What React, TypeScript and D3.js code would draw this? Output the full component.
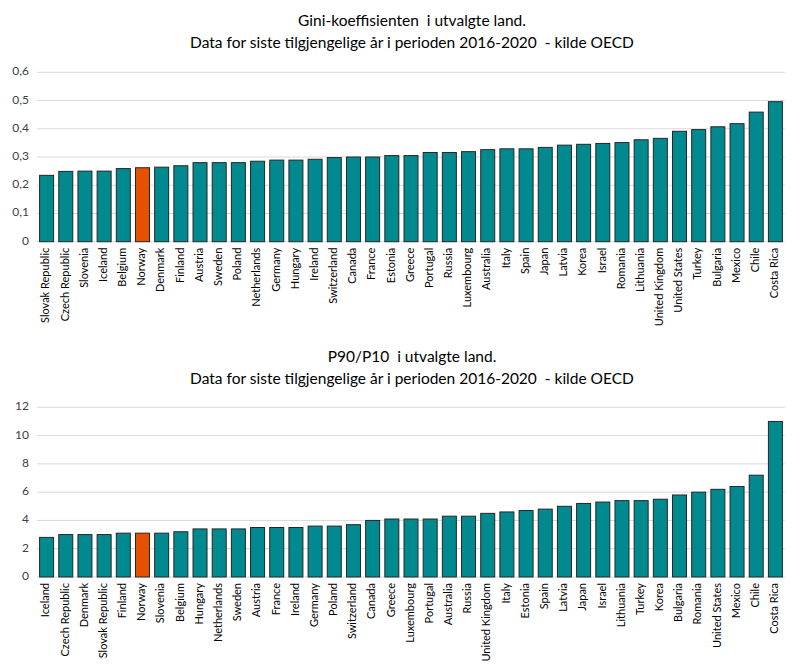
import { useEffect, useRef } from 'react';
import * as d3 from 'd3';

const giniCountries = [
  'Slovak Republic', 'Czech Republic', 'Slovenia', 'Iceland', 'Belgium', 'Norway',
  'Denmark', 'Finland', 'Austria', 'Sweden', 'Poland', 'Netherlands', 'Germany',
  'Hungary', 'Ireland', 'Switzerland', 'Canada', 'France', 'Estonia', 'Greece',
  'Portugal', 'Russia', 'Luxembourg', 'Australia', 'Italy', 'Spain', 'Japan',
  'Latvia', 'Korea', 'Israel', 'Romania', 'Lithuania', 'United Kingdom',
  'United States', 'Turkey', 'Bulgaria', 'Mexico', 'Chile', 'Costa Rica',
];
const giniValues = [
  0.235, 0.249, 0.250, 0.250, 0.259, 0.262, 0.264, 0.269, 0.280, 0.280, 0.280,
  0.285, 0.289, 0.289, 0.292, 0.298, 0.300, 0.300, 0.305, 0.305, 0.316, 0.316,
  0.319, 0.326, 0.329, 0.329, 0.334, 0.342, 0.345, 0.348, 0.351, 0.361, 0.366,
  0.391, 0.397, 0.407, 0.418, 0.459, 0.496,
];
const giniTicks = [0, 0.1, 0.2, 0.3, 0.4, 0.5, 0.6];

const p90Countries = [
  'Iceland', 'Czech Republic', 'Denmark', 'Slovak Republic', 'Finland', 'Norway',
  'Slovenia', 'Belgium', 'Hungary', 'Netherlands', 'Sweden', 'Austria', 'France',
  'Ireland', 'Germany', 'Poland', 'Switzerland', 'Canada', 'Greece', 'Luxembourg',
  'Portugal', 'Australia', 'Russia', 'United Kingdom', 'Italy', 'Estonia', 'Spain',
  'Latvia', 'Japan', 'Israel', 'Lithuania', 'Turkey', 'Korea', 'Bulgaria',
  'Romania', 'United States', 'Mexico', 'Chile', 'Costa Rica',
];
const p90Values = [
  2.8, 3.0, 3.0, 3.0, 3.1, 3.1, 3.1, 3.2, 3.4, 3.4, 3.4, 3.5, 3.5, 3.5, 3.6, 3.6,
  3.7, 4.0, 4.1, 4.1, 4.1, 4.3, 4.3, 4.5, 4.6, 4.7, 4.8, 5.0, 5.2, 5.3, 5.4, 5.4,
  5.5, 5.8, 6.0, 6.2, 6.4, 7.2, 11.0,
];
const p90Ticks = [0, 2, 4, 6, 8, 10, 12];

const giniTitle = ['Gini-koeffisienten  i utvalgte land.', 'Data for siste tilgjengelige år i perioden 2016-2020  - kilde OECD'];
const p90Title = ['P90/P10  i utvalgte land.', 'Data for siste tilgjengelige år i perioden 2016-2020  - kilde OECD'];

const width = 800;
const height = 672;
const font = 'Lato, "Open Sans", sans-serif';
const teal = '#008a8f';
const orange = '#e65100';

interface PanelSpec {
  top: number; // y of top tick
  bottom: number; // y of zero line
  titleY: number;
  title: string[];
  countries: string[];
  values: number[];
  ticks: number[];
  fmt: (v: number) => string;
}

export default function App() {
  const svgRef = useRef<SVGSVGElement>(null);

  useEffect(() => {
    if (!svgRef.current) return;
    const svg = d3.select(svgRef.current);
    svg.selectAll('*').remove();

    svg.append('rect').attr('width', width).attr('height', height).attr('fill', '#fff');

    const left = 37;
    const right = 785;

    const panels: PanelSpec[] = [
      {
        top: 72.3, bottom: 241.7, titleY: 22, title: giniTitle,
        countries: giniCountries, values: giniValues, ticks: giniTicks,
        fmt: (v) => (v === 0 ? '0' : d3.format('.1f')(v).replace('.', ',')),
      },
      {
        top: 407.3, bottom: 577, titleY: 358, title: p90Title,
        countries: p90Countries, values: p90Values, ticks: p90Ticks,
        fmt: (v) => `${v}`,
      },
    ];

    panels.forEach((p) => {
      const x = d3.scaleBand<string>()
        .domain(p.countries)
        .range([left, right])
        .paddingInner(0.27)
        .paddingOuter(0.135);
      const y = d3.scaleLinear()
        .domain([0, p.ticks[p.ticks.length - 1]])
        .range([p.bottom, p.top]);

      const g = svg.append('g');

      // Title
      p.title.forEach((t, i) => {
        g.append('text')
          .attr('x', 412)
          .attr('y', p.titleY + i * 22)
          .attr('text-anchor', 'middle')
          .attr('dominant-baseline', 'middle')
          .attr('font-family', font)
          .attr('font-size', 15.5)
          .attr('fill', '#000')
          .style('white-space', 'pre')
          .text(t);
      });

      // Grid
      g.append('g')
        .selectAll('line')
        .data(p.ticks)
        .join('line')
        .attr('x1', left)
        .attr('x2', right)
        .attr('y1', (d) => y(d))
        .attr('y2', (d) => y(d))
        .attr('stroke', '#d9d9d9')
        .attr('stroke-width', 1);

      // Y labels
      g.append('g')
        .selectAll('text')
        .data(p.ticks)
        .join('text')
        .attr('x', 29)
        .attr('y', (d) => y(d))
        .attr('text-anchor', 'end')
        .attr('dominant-baseline', 'middle')
        .attr('font-family', font)
        .attr('font-size', 12)
        .attr('fill', '#404040')
        .text((d) => p.fmt(d));

      // Bars
      g.append('g')
        .selectAll('rect')
        .data(p.values)
        .join('rect')
        .attr('x', (_, i) => x(p.countries[i])!)
        .attr('width', x.bandwidth())
        .attr('y', (d) => y(d))
        .attr('height', (d) => y(0) - y(d))
        .attr('fill', (_, i) => (p.countries[i] === 'Norway' ? orange : teal))
        .attr('stroke', '#262626')
        .attr('stroke-width', 1);

      // X labels
      g.append('g')
        .selectAll('text')
        .data(p.countries)
        .join('text')
        .attr('transform', (d) => `translate(${x(d)! + x.bandwidth() / 2},${p.bottom + 6}) rotate(-90)`)
        .attr('text-anchor', 'end')
        .attr('dominant-baseline', 'middle')
        .attr('font-family', font)
        .attr('font-size', 11)
        .attr('fill', '#000')
        .text((d) => d);
    });
  }, []);

  return (
    <div style={{ position: 'absolute', left: 0, top: 0 }}>
      <svg ref={svgRef} width={width} height={height} style={{ display: 'block' }} />
    </div>
  );
}
